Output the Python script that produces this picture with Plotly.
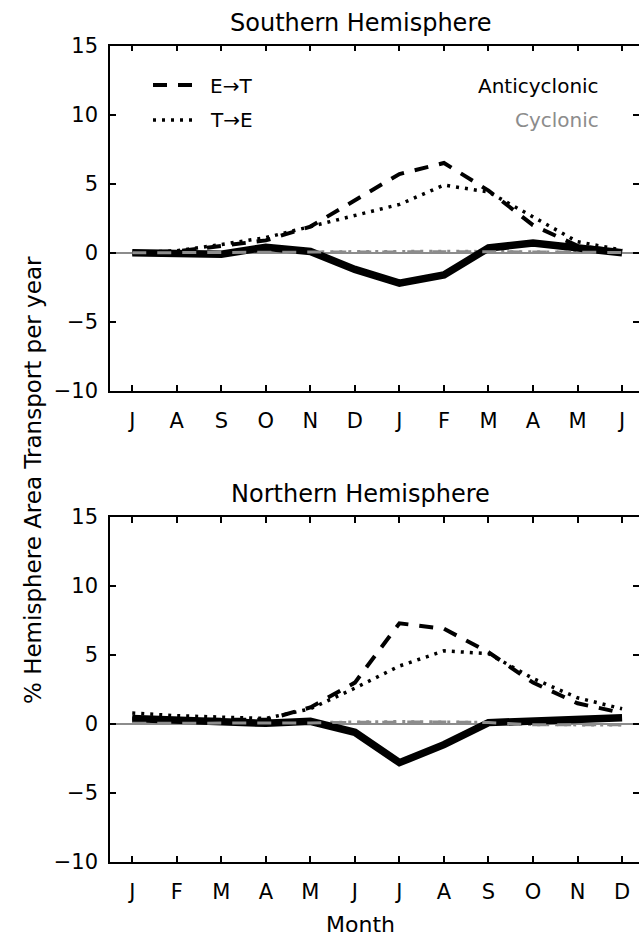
import plotly.graph_objects as go

# Month axes: Southern Hemisphere runs July-June, Northern Hemisphere January-December
months_sh = ["J", "A", "S", "O", "N", "D", "J", "F", "M", "A", "M", "J"]
months_nh = ["J", "F", "M", "A", "M", "J", "J", "A", "S", "O", "N", "D"]
month_idx = list(range(1, 13))

# Southern Hemisphere (% hemisphere area transported per year)
sh_anti_et = [0.0, 0.1, 0.5, 0.9, 1.9, 3.8, 5.7, 6.5, 4.5, 2.0, 0.5, 0.1]
sh_anti_te = [0.0, 0.15, 0.6, 1.1, 1.9, 2.7, 3.5, 4.9, 4.4, 2.6, 0.8, 0.2]
sh_anti_net = [0.0, 0.0, -0.1, 0.4, 0.1, -1.2, -2.2, -1.6, 0.35, 0.7, 0.35, 0.0]
sh_cyc_et = [0.0, 0.0, 0.02, 0.05, 0.05, 0.06, 0.08, 0.1, 0.08, 0.06, 0.04, 0.02]
sh_cyc_te = [0.0, 0.0, 0.03, 0.06, 0.06, 0.08, 0.1, 0.12, 0.1, 0.06, 0.05, 0.02]

# Northern Hemisphere
nh_anti_et = [0.4, 0.3, 0.3, 0.3, 1.2, 3.0, 7.3, 6.9, 5.2, 3.0, 1.5, 0.8]
nh_anti_te = [0.8, 0.6, 0.5, 0.4, 1.1, 2.6, 4.2, 5.3, 5.1, 3.3, 1.9, 1.1]
nh_anti_net = [0.4, 0.3, 0.25, 0.05, 0.2, -0.6, -2.8, -1.5, 0.1, 0.25, 0.4, 0.45]
nh_cyc_et = [0.05, 0.05, 0.05, 0.05, 0.08, 0.12, 0.15, 0.15, 0.1, -0.05, -0.05, -0.05]
nh_cyc_te = [0.05, 0.05, 0.05, 0.05, 0.1, 0.15, 0.18, 0.15, 0.12, -0.05, -0.08, -0.08]

y_ticks = [-10, -5, 0, 5, 10, 15]

FONT = "DejaVu Sans"
GRAY = "#8c8c8c"
W, H = 639, 940

DASH = "14px,11px"
DOT = "3px,6px"

fig = go.Figure()


def add_panel(xa, ya, ya_right, et, te, net, c_et, c_te):
    fig.add_trace(go.Scatter(x=month_idx, y=c_et, mode="lines", xaxis=xa, yaxis=ya_right,
                             line=dict(color=GRAY, width=3, dash=DASH), showlegend=False))
    fig.add_trace(go.Scatter(x=month_idx, y=c_te, mode="lines", xaxis=xa, yaxis=ya,
                             line=dict(color=GRAY, width=3, dash=DOT), showlegend=False))
    fig.add_trace(go.Scatter(x=month_idx, y=et, mode="lines", xaxis=xa, yaxis=ya,
                             line=dict(color="black", width=4, dash=DASH), showlegend=False))
    fig.add_trace(go.Scatter(x=month_idx, y=te, mode="lines", xaxis=xa, yaxis=ya,
                             line=dict(color="black", width=3.5, dash=DOT), showlegend=False))
    fig.add_trace(go.Scatter(x=month_idx, y=net, mode="lines", xaxis=xa, yaxis=ya,
                             line=dict(color="black", width=7.5), showlegend=False))


add_panel("x", "y", "y3", sh_anti_et, sh_anti_te, sh_anti_net, sh_cyc_et, sh_cyc_te)
add_panel("x2", "y2", "y4", nh_anti_et, nh_anti_te, nh_anti_net, nh_cyc_et, nh_cyc_te)

x_dom = [110 / W, 1.0]
top_dom = [1 - 391 / H, 1 - 45.5 / H]
bot_dom = [1 - 862 / H, 1 - 517 / H]

tickfont = dict(family=FONT, size=21, color="black")

xcommon = dict(domain=x_dom, range=[0.5, 12.38], tickvals=month_idx, ticks="inside",
               ticklen=6, tickwidth=1.5, tickcolor="black", showline=True, linecolor="black",
               linewidth=1.5, mirror="ticks", showgrid=False, zeroline=False,
               tickfont=tickfont, automargin=False, ticklabelstandoff=10)
ycommon = dict(range=[-10, 15], tickvals=y_ticks, ticks="inside", ticklen=6, tickwidth=1.5,
               tickcolor="black", showline=True, linecolor="black", linewidth=1.5,
               mirror=False, showgrid=False, zeroline=True, zerolinecolor=GRAY,
               zerolinewidth=1.5, tickfont=tickfont, automargin=False, ticklabelstandoff=6)
yright = dict(range=[-10, 15], tickvals=y_ticks, ticks="inside", ticklen=6, tickwidth=1.5,
              tickcolor="black", showline=False, showgrid=False, zeroline=False,
              showticklabels=False, side="right")

fig.update_layout(
    xaxis=dict(xcommon, anchor="y", ticktext=months_sh),
    yaxis=dict(ycommon, domain=top_dom, anchor="x"),
    xaxis2=dict(xcommon, anchor="y2", ticktext=months_nh),
    yaxis2=dict(ycommon, domain=bot_dom, anchor="x2"),
    yaxis3=dict(yright, overlaying="y", anchor="x"),
    yaxis4=dict(yright, overlaying="y2", anchor="x2"),
)

# Legend keys: line styles (left) and colours (right)
def px_x(v):
    return v / W


def px_y(v):
    return 1 - v / H


for y_px, dash, lw in [(85, DASH, 4), (120, DOT, 3.5)]:
    fig.add_shape(type="line", xref="paper", yref="paper",
                  x0=px_x(153), x1=px_x(192), y0=px_y(y_px), y1=px_y(y_px),
                  line=dict(color="black", width=lw, dash=dash))

annotations = [
    dict(text="E→T", x=px_x(208), y=px_y(86), xanchor="left", yanchor="middle",
         font=dict(family=FONT, size=20, color="black")),
    dict(text="T→E", x=px_x(208), y=px_y(120), xanchor="left", yanchor="middle",
         font=dict(family=FONT, size=20, color="black")),
    dict(text="Anticyclonic", x=px_x(601), y=px_y(86), xanchor="right", yanchor="middle",
         font=dict(family=FONT, size=20, color="black")),
    dict(text="Cyclonic", x=px_x(601), y=px_y(120), xanchor="right", yanchor="middle",
         font=dict(family=FONT, size=20, color=GRAY)),
    dict(text="Southern Hemisphere", x=px_x(360), y=px_y(23), xanchor="center",
         yanchor="middle", font=dict(family=FONT, size=24, color="black")),
    dict(text="Northern Hemisphere", x=px_x(360), y=px_y(494), xanchor="center",
         yanchor="middle", font=dict(family=FONT, size=24, color="black")),
    dict(text="Month", x=px_x(360), y=px_y(924), xanchor="center", yanchor="middle",
         font=dict(family=FONT, size=22, color="black")),
    dict(text="% Hemisphere Area Transport per year", x=px_x(33), y=px_y(480),
         xanchor="center", yanchor="middle", textangle=-90,
         font=dict(family=FONT, size=23, color="black")),
]
for a in annotations:
    a.update(xref="paper", yref="paper", showarrow=False)
fig.update_layout(annotations=annotations)

fig.update_layout(width=W, height=H, margin=dict(l=0, r=0, t=0, b=0),
                  paper_bgcolor="white", plot_bgcolor="white", showlegend=False,
                  template="none")

fig.write_html("out.html")
